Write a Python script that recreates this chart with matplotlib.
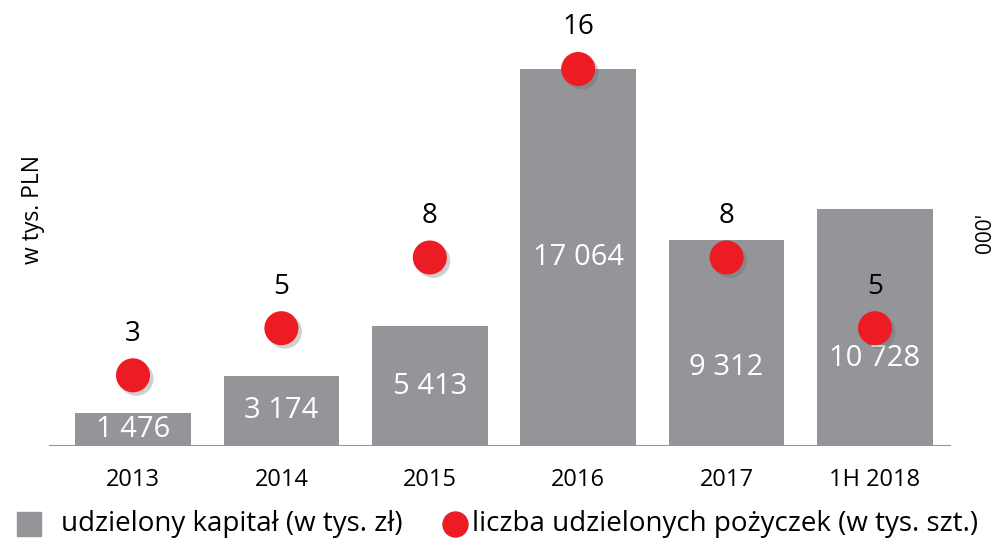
import matplotlib
matplotlib.use("Agg")
import matplotlib.pyplot as plt
import matplotlib.patheffects as pe
from matplotlib.patches import Rectangle
from matplotlib.lines import Line2D

plt.rcParams['font.family'] = ['Open Sans', 'DejaVu Sans']

# === DANE ===
years = ["2013", "2014", "2015", "2016", "2017", "1H 2018"]
kapital = [1476, 3174, 5413, 17064, 9312, 10728]
kapital_labels = ["1 476", "3 174", "5 413", "17 064", "9 312", "10 728"]
pozyczki = [3, 5, 8, 16, 8, 5]

GRAY = "#939598"
RED = "#ED1C24"

fig = plt.figure(figsize=(9.97, 5.45), dpi=100)
ax = fig.add_axes([49 / 997, 99 / 545, 902 / 997, 426 / 545])
ax2 = ax.twinx()

x = list(range(len(years)))

# slupki
ax.bar(x, kapital, width=0.78, color=GRAY, zorder=2)
ax.axhline(0, color=GRAY, lw=2.2, zorder=3)
ax.set_xlim(-0.566, 5.512)
ax.set_ylim(0, 19276)

# etykiety w slupkach (dwa ostatnie nizej, bo zaslaniaja je kropki)
label_y = [v / 2 for v in kapital]
label_y[4] = 3550
label_y[5] = 3950
for xi, y, txt in zip(x, label_y, kapital_labels):
    ax.text(xi, y, txt, color="white", fontsize=21, ha="center", va="center",
            zorder=4)

# kropki z cieniem
shadow = [pe.SimplePatchShadow(offset=(2.5, -2.5), shadow_rgbFace="#666666", alpha=0.3),
          pe.Normal()]
ax2.scatter(x, pozyczki, s=34 ** 2 * 0.52, color=RED, zorder=5, path_effects=shadow,
            linewidths=0)
ax2.set_ylim(0, 18.08)
for xi, n in zip(x, pozyczki):
    ax2.annotate(str(n), (xi, n), xytext=(0, 30), textcoords="offset points",
                 ha="center", va="center", fontsize=20, color="black")

for a in (ax, ax2):
    for s in a.spines.values():
        s.set_visible(False)
    a.set_yticks([])

ax.set_xticks(x)
ax.set_xticklabels(years, fontsize=17)
ax.tick_params(axis="x", length=0, pad=16)

fig.text(33 / 997, 1 - 210 / 545, "w tys. PLN", rotation=90, fontsize=16.5,
         ha="center", va="center")
fig.text(985 / 997, 1 - 233 / 545, "000'", rotation=90, fontsize=15,
         ha="center", va="center")

# legenda
fig.add_artist(Rectangle((17 / 997, 1 - 536 / 545), 24 / 997, 24 / 545,
                         transform=fig.transFigure, color=GRAY))
fig.text(61 / 997, 1 - 524 / 545, "udzielony kapitał (w tys. zł)", fontsize=20,
         ha="left", va="center")
fig.add_artist(Line2D([455 / 997], [1 - 524 / 545], marker="o", markersize=19,
                      color=RED, markeredgewidth=0, transform=fig.transFigure))
fig.text(472 / 997, 1 - 524 / 545, "liczba udzielonych pożyczek (w tys. szt.)",
         fontsize=20, ha="left", va="center")

fig.savefig("out.png", dpi=100)
